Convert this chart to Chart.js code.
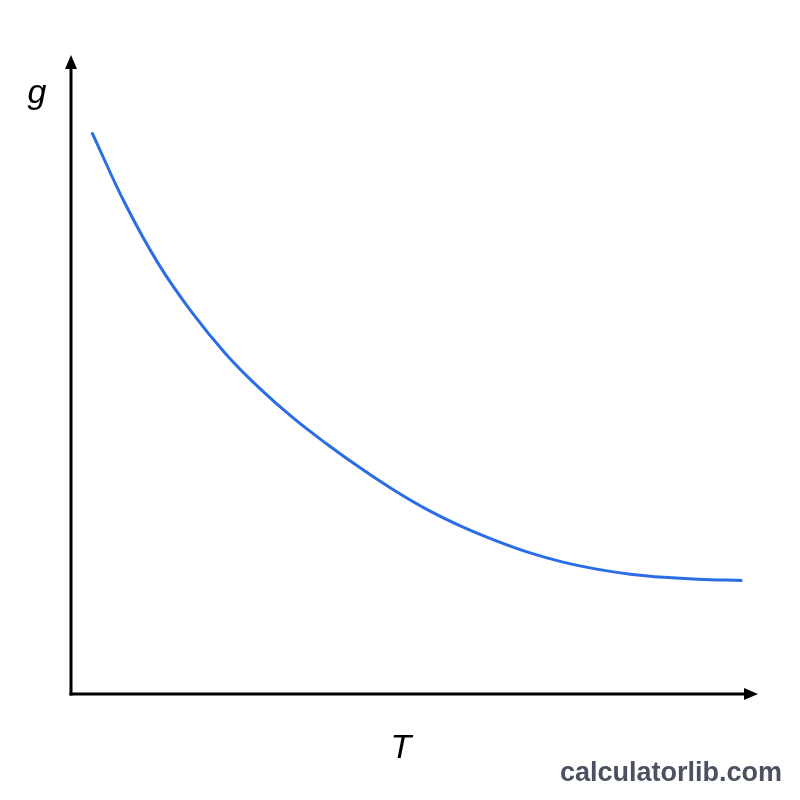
<!DOCTYPE html>
<html>
<head>
<meta charset="utf-8">
<script src="https://cdn.jsdelivr.net/npm/chart.js@4"></script>
<style>
  html, body { margin: 0; padding: 0; background: #fff; }
  #wrap { position: relative; width: 800px; height: 800px; }
  #watermark {
    position: absolute; right: 18px; top: 759px;
    font: bold 27px/1 "Liberation Sans", Arial, sans-serif;
    color: #4b5162;
  }
</style>
</head>
<body>
<div id="wrap">
  <canvas id="chart" width="800" height="800"></canvas>
  <div id="watermark">calculatorlib.com</div>
</div>
<script>
// g vs T curve (axis units 0..10)
const T_VALUES = [0.31, 0.8, 1.3, 1.8, 2.3, 2.8, 3.3, 3.8, 4.3, 4.8,
                  5.3, 5.8, 6.3, 6.8, 7.3, 7.8, 8.3, 8.8, 9.3, 9.96];
const G_VALUES = [8.86, 7.74, 6.78, 6.01, 5.36, 4.82, 4.35, 3.94, 3.56, 3.21,
                  2.90, 2.64, 2.42, 2.23, 2.08, 1.97, 1.89, 1.84, 1.81, 1.79];
const X_LABEL = 'T';
const Y_LABEL = 'g';
const LINE_COLOR = '#2b6de6';

const axesPlugin = {
  id: 'arrowAxes',
  afterDraw(chart) {
    const { ctx, chartArea: a } = chart;
    ctx.save();
    ctx.strokeStyle = '#000';
    ctx.fillStyle = '#000';
    ctx.lineWidth = 3;
    // y axis with arrow
    ctx.beginPath();
    ctx.moveTo(a.left, a.bottom + 1.5);
    ctx.lineTo(a.left, a.top + 8);
    ctx.stroke();
    ctx.beginPath();
    ctx.moveTo(a.left, a.top - 5);
    ctx.lineTo(a.left - 6, a.top + 9);
    ctx.lineTo(a.left + 6, a.top + 9);
    ctx.closePath();
    ctx.fill();
    // x axis with arrow
    ctx.beginPath();
    ctx.moveTo(a.left - 1.5, a.bottom);
    ctx.lineTo(a.right + 4, a.bottom);
    ctx.stroke();
    ctx.beginPath();
    ctx.moveTo(a.right + 13, a.bottom);
    ctx.lineTo(a.right - 1, a.bottom - 6);
    ctx.lineTo(a.right - 1, a.bottom + 6);
    ctx.closePath();
    ctx.fill();
    // axis letters
    ctx.font = 'italic 34px "Liberation Sans", Arial, sans-serif';
    ctx.textAlign = 'center';
    ctx.textBaseline = 'alphabetic';
    ctx.fillText(Y_LABEL, 37, 103);
    ctx.fillText(X_LABEL, 401, 758);
    ctx.restore();
  }
};

new Chart(document.getElementById('chart'), {
  type: 'line',
  data: {
    datasets: [{
      data: T_VALUES.map((t, i) => ({ x: t, y: G_VALUES[i] })),
      borderColor: LINE_COLOR,
      borderWidth: 3,
      pointRadius: 0,
      fill: false,
      tension: 0.4
    }]
  },
  options: {
    responsive: false,
    animation: false,
    events: [],
    layout: { padding: { left: 71, right: 55, top: 60, bottom: 106 } },
    plugins: { legend: { display: false }, tooltip: { enabled: false } },
    scales: {
      x: { type: 'linear', min: 0, max: 10, display: false },
      y: { type: 'linear', min: 0, max: 10, display: false }
    }
  },
  plugins: [axesPlugin]
});
</script>
</body>
</html>
